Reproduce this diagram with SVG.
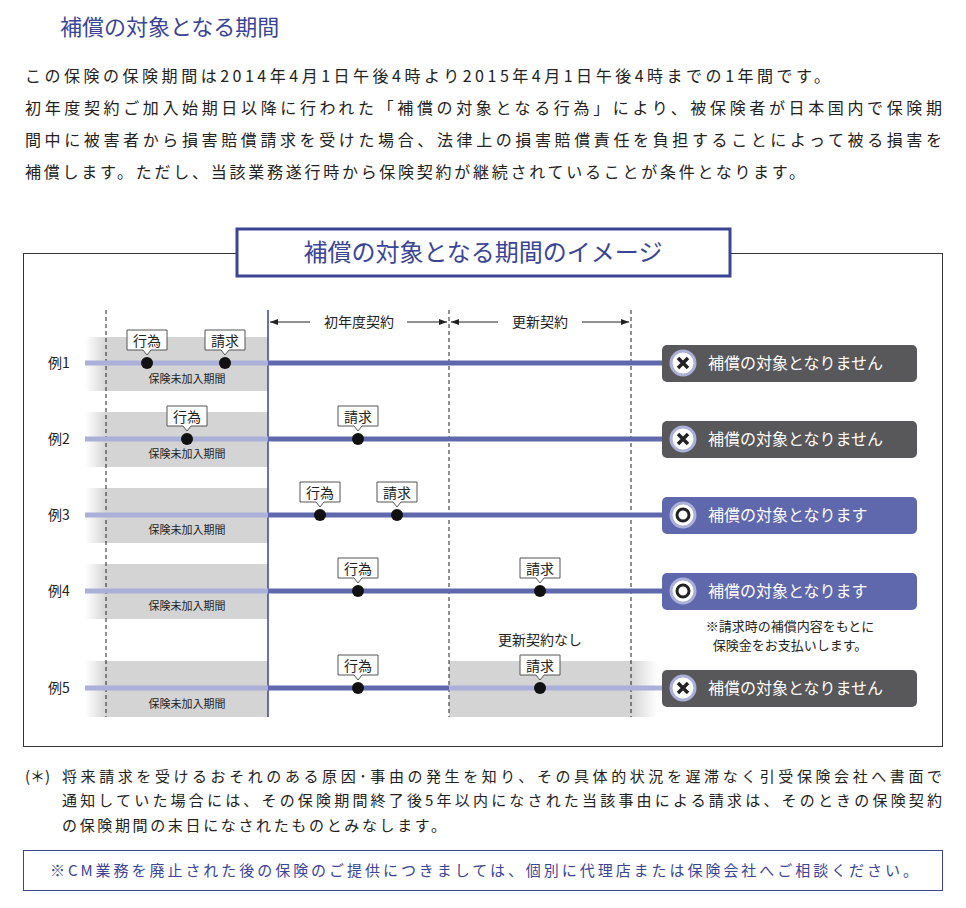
<svg xmlns="http://www.w3.org/2000/svg" width="966" height="908" viewBox="0 0 966 908">
<style>
text{font-family:"Noto Sans CJK JP","Noto Sans",sans-serif;fill:#222}
.p{font-size:16px}
.t{fill:#3a4595}
.lb{font-size:14px}
.sm{font-size:11px}
.dash{stroke:#222;stroke-width:1;stroke-dasharray:4 3}
.band{fill:#d4d4d4}
.lt{stroke:#aab0d8;stroke-width:5}
.dk{stroke:#6068ad;stroke-width:5}
.co{fill:#fff;stroke:#555;stroke-width:1}
.res{font-size:16px;fill:#fff}
</style>
<defs>
<linearGradient id="fl" x1="0" x2="1" y1="0" y2="0"><stop offset="0" stop-color="#fff"/><stop offset="1" stop-color="#d4d4d4"/></linearGradient>
<linearGradient id="fr" x1="0" x2="1" y1="0" y2="0"><stop offset="0" stop-color="#d4d4d4"/><stop offset="1" stop-color="#fff"/></linearGradient>
<path id="callout" d="M-20,0H20V20H4L0,25L-4,20H-20Z"/>
<marker id="ar" viewBox="0 0 8 8" refX="8" refY="4" markerWidth="8" markerHeight="8" orient="auto-start-reverse" markerUnits="userSpaceOnUse"><path d="M0,1L8,4L0,7Z" fill="#222"/></marker>
<g id="xi"><circle r="12" fill="#fff" stroke="#aab0d8" stroke-width="3"/><path d="M-5,-5L5,5M5,-5L-5,5" stroke="#222" stroke-width="3.5"/></g>
<g id="oi"><circle r="12" fill="#fff" stroke="#aab0d8" stroke-width="3"/><circle r="6" fill="none" stroke="#222" stroke-width="3"/></g>
</defs>
<rect width="966" height="908" fill="#fff"/>
<text x="60" y="35" font-size="22" class="t">補償の対象となる期間</text>
<text class="p" x="25" y="82" textLength="805">この保険の保険期間は2014年4月1日午後4時より2015年4月1日午後4時までの1年間です。</text>
<text class="p" x="25" y="114" textLength="917">初年度契約ご加入始期日以降に行われた「補償の対象となる行為」により、被保険者が日本国内で保険期</text>
<text class="p" x="25" y="146" textLength="917">間中に被害者から損害賠償請求を受けた場合、法律上の損害賠償責任を負担することによって被る損害を</text>
<text class="p" x="25" y="178" textLength="780">補償します。ただし、当該業務遂行時から保険契約が継続されていることが条件となります。</text>

<rect x="23.5" y="253.5" width="919" height="493" fill="none" stroke="#333" stroke-width="1"/>
<g id="title"><rect x="237" y="229" width="493" height="47" fill="#fff" stroke="#3a4595" stroke-width="3"/>
<text x="483" y="261" font-size="24" class="t" text-anchor="middle">補償の対象となる期間のイメージ</text></g>

<!-- bands -->
<g id="bands">
<rect x="85" y="337" width="22" height="54" fill="url(#fl)"/><rect x="106" y="337" width="162" height="54" class="band"/>
<rect x="85" y="412" width="22" height="55" fill="url(#fl)"/><rect x="106" y="412" width="162" height="55" class="band"/>
<rect x="85" y="488" width="22" height="55" fill="url(#fl)"/><rect x="106" y="488" width="162" height="55" class="band"/>
<rect x="85" y="564" width="22" height="55" fill="url(#fl)"/><rect x="106" y="564" width="162" height="55" class="band"/>
<rect x="85" y="661" width="22" height="56" fill="url(#fl)"/><rect x="106" y="661" width="162" height="56" class="band"/>
<rect x="449" y="661" width="183" height="56" class="band"/><rect x="631" y="661" width="26" height="56" fill="url(#fr)"/>
</g>
<g id="connectors">
<line x1="106" y1="310" x2="106" y2="717" class="dash"/>
<line x1="449" y1="310" x2="449" y2="717" class="dash"/>
<line x1="631" y1="310" x2="631" y2="717" class="dash"/>
<line x1="268" y1="310" x2="268" y2="717" stroke="#3a4595" stroke-width="1.5"/>
<line x1="310" y1="322" x2="270" y2="322" stroke="#222" marker-end="url(#ar)"/>
<line x1="407" y1="322" x2="447" y2="322" stroke="#222" marker-end="url(#ar)"/>
<line x1="498" y1="322" x2="451" y2="322" stroke="#222" marker-end="url(#ar)"/>
<line x1="582" y1="322" x2="629" y2="322" stroke="#222" marker-end="url(#ar)"/>
<line x1="85" y1="363" x2="268" y2="363" class="lt"/><line x1="268" y1="363" x2="664" y2="363" class="dk"/>
<line x1="85" y1="439" x2="268" y2="439" class="lt"/><line x1="268" y1="439" x2="664" y2="439" class="dk"/>
<line x1="85" y1="515" x2="268" y2="515" class="lt"/><line x1="268" y1="515" x2="664" y2="515" class="dk"/>
<line x1="85" y1="591" x2="268" y2="591" class="lt"/><line x1="268" y1="591" x2="664" y2="591" class="dk"/>
<line x1="85" y1="688" x2="268" y2="688" class="lt"/><line x1="268" y1="688" x2="449" y2="688" class="dk"/><line x1="449" y1="688" x2="664" y2="688" class="lt"/>
</g>
<text class="lb" x="359" y="327" text-anchor="middle">初年度契約</text>
<text class="lb" x="540" y="327" text-anchor="middle">更新契約</text>

<g id="rows" font-size="14">
<text class="lb" x="48" y="368">例1</text><text class="lb" x="48" y="444">例2</text><text class="lb" x="48" y="520">例3</text><text class="lb" x="48" y="596">例4</text><text class="lb" x="48" y="693">例5</text>
<text class="sm" x="187" y="383" text-anchor="middle">保険未加入期間</text>
<text class="sm" x="187" y="458" text-anchor="middle">保険未加入期間</text>
<text class="sm" x="187" y="534" text-anchor="middle">保険未加入期間</text>
<text class="sm" x="187" y="610" text-anchor="middle">保険未加入期間</text>
<text class="sm" x="187" y="708" text-anchor="middle">保険未加入期間</text>
<text class="lb" x="540" y="645" text-anchor="middle">更新契約なし</text>
</g>
<g id="events">
<g transform="translate(147,330)"><use href="#callout" class="co"/><text x="0" y="16" class="lb" text-anchor="middle">行為</text></g><circle cx="147" cy="363" r="6" fill="#111"/>
<g transform="translate(225,330)"><use href="#callout" class="co"/><text x="0" y="16" class="lb" text-anchor="middle">請求</text></g><circle cx="225" cy="363" r="6" fill="#111"/>
<g transform="translate(187,406)"><use href="#callout" class="co"/><text x="0" y="16" class="lb" text-anchor="middle">行為</text></g><circle cx="187" cy="439" r="6" fill="#111"/>
<g transform="translate(358,406)"><use href="#callout" class="co"/><text x="0" y="16" class="lb" text-anchor="middle">請求</text></g><circle cx="358" cy="439" r="6" fill="#111"/>
<g transform="translate(320,482)"><use href="#callout" class="co"/><text x="0" y="16" class="lb" text-anchor="middle">行為</text></g><circle cx="320" cy="515" r="6" fill="#111"/>
<g transform="translate(397,482)"><use href="#callout" class="co"/><text x="0" y="16" class="lb" text-anchor="middle">請求</text></g><circle cx="397" cy="515" r="6" fill="#111"/>
<g transform="translate(358,558)"><use href="#callout" class="co"/><text x="0" y="16" class="lb" text-anchor="middle">行為</text></g><circle cx="358" cy="591" r="6" fill="#111"/>
<g transform="translate(540,558)"><use href="#callout" class="co"/><text x="0" y="16" class="lb" text-anchor="middle">請求</text></g><circle cx="540" cy="591" r="6" fill="#111"/>
<g transform="translate(358,655)"><use href="#callout" class="co"/><text x="0" y="16" class="lb" text-anchor="middle">行為</text></g><circle cx="358" cy="688" r="6" fill="#111"/>
<g transform="translate(540,655)"><use href="#callout" class="co"/><text x="0" y="16" class="lb" text-anchor="middle">請求</text></g><circle cx="540" cy="688" r="6" fill="#111"/>
</g>
<g id="r1"><rect x="662" y="345" width="255" height="37" rx="5" fill="#58575a"/><use href="#xi" x="683" y="363"/><text class="res" x="708" y="369">補償の対象となりません</text></g>
<g id="r2"><rect x="662" y="421" width="255" height="37" rx="5" fill="#58575a"/><use href="#xi" x="683" y="439"/><text class="res" x="708" y="445">補償の対象となりません</text></g>
<g id="r3"><rect x="662" y="497" width="255" height="37" rx="5" fill="#6068ad"/><use href="#oi" x="683" y="515"/><text class="res" x="708" y="521">補償の対象となります</text></g>
<g id="r4"><rect x="662" y="573" width="255" height="37" rx="5" fill="#6068ad"/><use href="#oi" x="683" y="591"/><text class="res" x="708" y="597">補償の対象となります</text></g>
<g id="r5"><rect x="662" y="670" width="255" height="37" rx="5" fill="#58575a"/><use href="#xi" x="683" y="688"/><text class="res" x="708" y="694">補償の対象となりません</text></g>
<text x="790" y="631" font-size="13" text-anchor="middle">※請求時の補償内容をもとに</text>
<text x="790" y="650" font-size="13" text-anchor="middle">保険金をお支払いします。</text>

<text x="25" y="782" font-size="15">(＊)</text>
<text x="62" y="782" font-size="15" textLength="880">将来請求を受けるおそれのある原因･事由の発生を知り、その具体的状況を遅滞なく引受保険会社へ書面で</text>
<text x="62" y="806" font-size="15" textLength="880">通知していた場合には、その保険期間終了後5年以内になされた当該事由による請求は、そのときの保険契約</text>
<text x="62" y="831" font-size="15" textLength="384">の保険期間の末日になされたものとみなします。</text>
<rect x="23.5" y="850.5" width="919" height="40" fill="none" stroke="#3a4595" stroke-width="1"/>
<text x="50" y="876" font-size="15" class="t" textLength="868">※CM業務を廃止された後の保険のご提供につきましては、個別に代理店または保険会社へご相談ください。</text>
</svg>
